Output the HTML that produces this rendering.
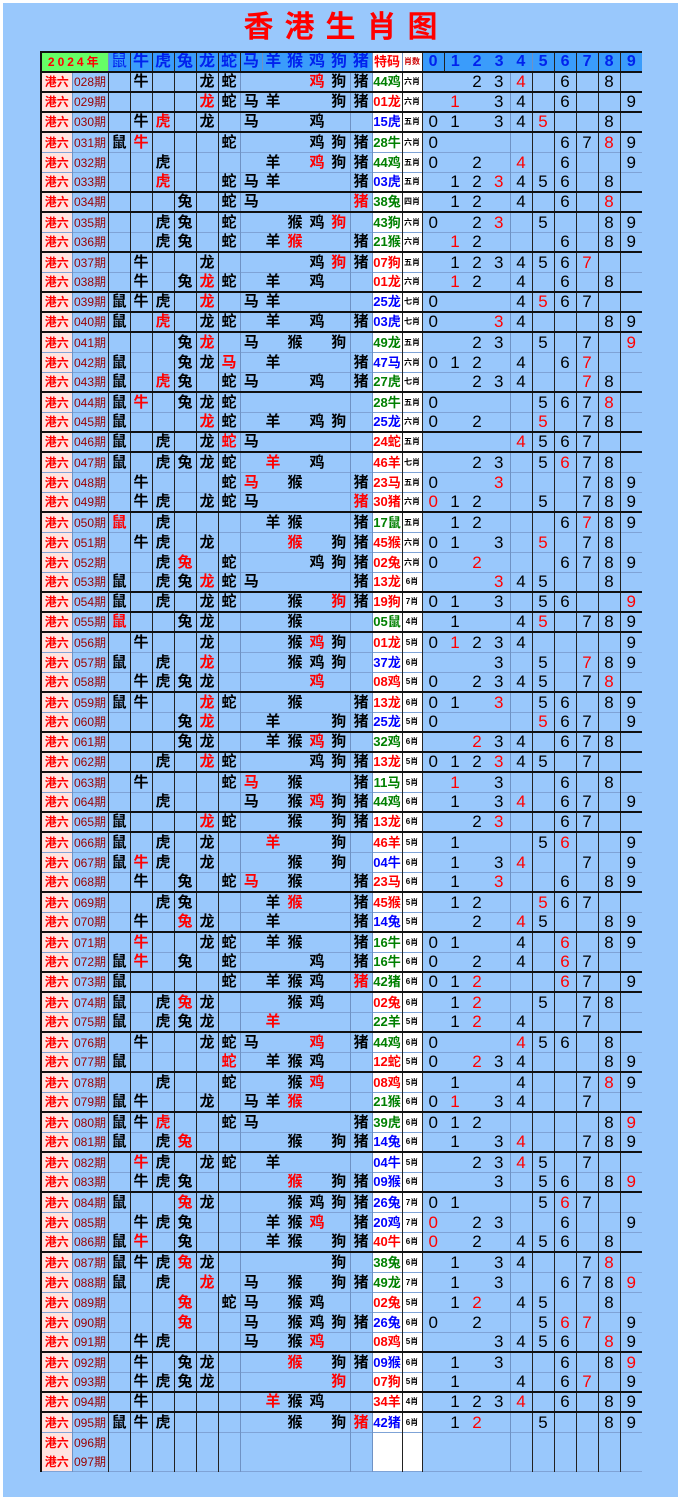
<!DOCTYPE html>
<html><head><meta charset="utf-8"><style>
body{margin:0;background:#fff;width:681px;height:1500px;overflow:hidden}
#w{position:absolute;left:3px;top:3px;width:675px;height:1494px;background:#99c8fc}
h1{position:absolute;left:0;width:681px;top:8px;margin:0;text-align:center;color:#f00;font:bold 30px "Liberation Sans","Noto Sans CJK SC",sans-serif;letter-spacing:11px;text-indent:11px;line-height:40px}
table{position:absolute;left:40px;top:51px;border-collapse:collapse;table-layout:fixed;width:601px;font-family:"Liberation Sans","Noto Sans CJK SC",sans-serif;border-top:2px solid #111;border-left:2px solid #111}
td{height:19px;padding:0;text-align:center;border-left:1px solid #222;font-size:15px;line-height:18px;white-space:nowrap;overflow:hidden;font-weight:bold;color:#000}
tr.e td{height:18px}
tr td:nth-child(n+17){font-weight:normal;font-size:17px;font-family:"Liberation Sans",sans-serif}
td:nth-child(10),td:nth-child(11),td:nth-child(12),td:nth-child(13),td:nth-child(18),td:nth-child(19),td:nth-child(20){border-left:none}
td:nth-child(2),td:nth-child(9),td:nth-child(14),td:nth-child(15),td:nth-child(21){border-left-color:#6f92c4}
td:nth-child(1){background:#ffe4e1;color:#f00;font-size:12px}
td:nth-child(2){color:#990000;font-size:12px;font-weight:normal}
td:nth-child(15),td:nth-child(16){background:#fff}
td:nth-child(15){font-size:13px}
td:nth-child(16){font-size:8px}
tr{border-bottom:1px solid #7fa3d6}
tr.e{border-bottom:2px solid #111}
tr.h td{background:#3a9cfb;color:#0022ee;font-size:16px;height:17px}
tr.h td.y{background:#66ff66;color:#f00;font-size:12px;letter-spacing:3px}
tr.h td.tm{background:#fff;color:#f00;font-size:13px;font-weight:bold}
tr.h td.xs{background:#fff;color:#c00;font-size:8px}
tr.h td.dg{font-weight:bold;font-size:16px;color:#0022ee}
td.r{color:#f00!important}
td.g{color:#008000}
td.b{color:#0000ff}
</style></head><body><div id="w"></div>
<h1>香港生肖图</h1>
<table>
<colgroup><col style="width:31px"><col style="width:36px"><col span="12" style="width:22px"><col style="width:30px"><col style="width:20px"><col span="10" style="width:22px"></colgroup>
<tr class="h e"><td class="y" colspan="2">2024年</td><td>鼠</td><td>牛</td><td>虎</td><td>兔</td><td>龙</td><td>蛇</td><td>马</td><td>羊</td><td>猴</td><td>鸡</td><td>狗</td><td>猪</td><td class="tm">特码</td><td class="xs">肖数</td><td class="dg">0</td><td class="dg">1</td><td class="dg">2</td><td class="dg">3</td><td class="dg">4</td><td class="dg">5</td><td class="dg">6</td><td class="dg">7</td><td class="dg">8</td><td class="dg">9</td></tr>
<tr class="e"><td>港六</td><td>028期</td><td></td><td>牛</td><td></td><td></td><td>龙</td><td>蛇</td><td></td><td></td><td></td><td class="r">鸡</td><td>狗</td><td>猪</td><td class="g">44鸡</td><td>六肖</td><td></td><td></td><td>2</td><td>3</td><td class="r">4</td><td></td><td>6</td><td></td><td>8</td><td></td></tr>
<tr class="e"><td>港六</td><td>029期</td><td></td><td></td><td></td><td></td><td class="r">龙</td><td>蛇</td><td>马</td><td>羊</td><td></td><td></td><td>狗</td><td>猪</td><td class="r">01龙</td><td>六肖</td><td></td><td class="r">1</td><td></td><td>3</td><td>4</td><td></td><td>6</td><td></td><td></td><td>9</td></tr>
<tr class="e"><td>港六</td><td>030期</td><td></td><td>牛</td><td class="r">虎</td><td></td><td>龙</td><td></td><td>马</td><td></td><td></td><td>鸡</td><td></td><td></td><td class="b">15虎</td><td>五肖</td><td>0</td><td>1</td><td></td><td>3</td><td>4</td><td class="r">5</td><td></td><td></td><td>8</td><td></td></tr>
<tr><td>港六</td><td>031期</td><td>鼠</td><td class="r">牛</td><td></td><td></td><td></td><td>蛇</td><td></td><td></td><td></td><td>鸡</td><td>狗</td><td>猪</td><td class="g">28牛</td><td>六肖</td><td>0</td><td></td><td></td><td></td><td></td><td></td><td>6</td><td>7</td><td class="r">8</td><td>9</td></tr>
<tr><td>港六</td><td>032期</td><td></td><td></td><td>虎</td><td></td><td></td><td></td><td></td><td>羊</td><td></td><td class="r">鸡</td><td>狗</td><td>猪</td><td class="g">44鸡</td><td>五肖</td><td>0</td><td></td><td>2</td><td></td><td class="r">4</td><td></td><td>6</td><td></td><td></td><td>9</td></tr>
<tr class="e"><td>港六</td><td>033期</td><td></td><td></td><td class="r">虎</td><td></td><td></td><td>蛇</td><td>马</td><td>羊</td><td></td><td></td><td></td><td>猪</td><td class="b">03虎</td><td>五肖</td><td></td><td>1</td><td>2</td><td class="r">3</td><td>4</td><td>5</td><td>6</td><td></td><td>8</td><td></td></tr>
<tr class="e"><td>港六</td><td>034期</td><td></td><td></td><td></td><td>兔</td><td></td><td>蛇</td><td>马</td><td></td><td></td><td></td><td></td><td class="r">猪</td><td class="g">38兔</td><td>四肖</td><td></td><td>1</td><td>2</td><td></td><td>4</td><td></td><td>6</td><td></td><td class="r">8</td><td></td></tr>
<tr><td>港六</td><td>035期</td><td></td><td></td><td>虎</td><td>兔</td><td></td><td>蛇</td><td></td><td></td><td>猴</td><td>鸡</td><td class="r">狗</td><td></td><td class="g">43狗</td><td>六肖</td><td>0</td><td></td><td>2</td><td class="r">3</td><td></td><td>5</td><td></td><td></td><td>8</td><td>9</td></tr>
<tr class="e"><td>港六</td><td>036期</td><td></td><td></td><td>虎</td><td>兔</td><td></td><td>蛇</td><td></td><td>羊</td><td class="r">猴</td><td></td><td></td><td>猪</td><td class="g">21猴</td><td>六肖</td><td></td><td class="r">1</td><td>2</td><td></td><td></td><td></td><td>6</td><td></td><td>8</td><td>9</td></tr>
<tr><td>港六</td><td>037期</td><td></td><td>牛</td><td></td><td></td><td>龙</td><td></td><td></td><td></td><td></td><td>鸡</td><td class="r">狗</td><td>猪</td><td class="r">07狗</td><td>五肖</td><td></td><td>1</td><td>2</td><td>3</td><td>4</td><td>5</td><td>6</td><td class="r">7</td><td></td><td></td></tr>
<tr class="e"><td>港六</td><td>038期</td><td></td><td>牛</td><td></td><td>兔</td><td class="r">龙</td><td>蛇</td><td></td><td>羊</td><td></td><td>鸡</td><td></td><td></td><td class="r">01龙</td><td>六肖</td><td></td><td class="r">1</td><td>2</td><td></td><td>4</td><td></td><td>6</td><td></td><td>8</td><td></td></tr>
<tr class="e"><td>港六</td><td>039期</td><td>鼠</td><td>牛</td><td>虎</td><td></td><td class="r">龙</td><td></td><td>马</td><td>羊</td><td></td><td></td><td></td><td></td><td class="b">25龙</td><td>七肖</td><td>0</td><td></td><td></td><td></td><td>4</td><td class="r">5</td><td>6</td><td>7</td><td></td><td></td></tr>
<tr class="e"><td>港六</td><td>040期</td><td>鼠</td><td></td><td class="r">虎</td><td></td><td>龙</td><td>蛇</td><td></td><td>羊</td><td></td><td>鸡</td><td></td><td>猪</td><td class="b">03虎</td><td>七肖</td><td>0</td><td></td><td></td><td class="r">3</td><td>4</td><td></td><td></td><td></td><td>8</td><td>9</td></tr>
<tr><td>港六</td><td>041期</td><td></td><td></td><td></td><td>兔</td><td class="r">龙</td><td></td><td>马</td><td></td><td>猴</td><td></td><td>狗</td><td></td><td class="g">49龙</td><td>五肖</td><td></td><td></td><td>2</td><td>3</td><td></td><td>5</td><td></td><td>7</td><td></td><td class="r">9</td></tr>
<tr><td>港六</td><td>042期</td><td>鼠</td><td></td><td></td><td>兔</td><td>龙</td><td class="r">马</td><td></td><td>羊</td><td></td><td></td><td></td><td>猪</td><td class="b">47马</td><td>六肖</td><td>0</td><td>1</td><td>2</td><td></td><td>4</td><td></td><td>6</td><td class="r">7</td><td></td><td></td></tr>
<tr class="e"><td>港六</td><td>043期</td><td>鼠</td><td></td><td class="r">虎</td><td>兔</td><td></td><td>蛇</td><td>马</td><td></td><td></td><td>鸡</td><td></td><td>猪</td><td class="g">27虎</td><td>七肖</td><td></td><td></td><td>2</td><td>3</td><td>4</td><td></td><td></td><td class="r">7</td><td>8</td><td></td></tr>
<tr><td>港六</td><td>044期</td><td>鼠</td><td class="r">牛</td><td></td><td>兔</td><td>龙</td><td>蛇</td><td></td><td></td><td></td><td></td><td></td><td></td><td class="g">28牛</td><td>五肖</td><td>0</td><td></td><td></td><td></td><td></td><td>5</td><td>6</td><td>7</td><td class="r">8</td><td></td></tr>
<tr class="e"><td>港六</td><td>045期</td><td>鼠</td><td></td><td></td><td></td><td class="r">龙</td><td>蛇</td><td></td><td>羊</td><td></td><td>鸡</td><td>狗</td><td></td><td class="b">25龙</td><td>六肖</td><td>0</td><td></td><td>2</td><td></td><td></td><td class="r">5</td><td></td><td>7</td><td>8</td><td></td></tr>
<tr class="e"><td>港六</td><td>046期</td><td>鼠</td><td></td><td>虎</td><td></td><td>龙</td><td class="r">蛇</td><td>马</td><td></td><td></td><td></td><td></td><td></td><td class="r">24蛇</td><td>五肖</td><td></td><td></td><td></td><td></td><td class="r">4</td><td>5</td><td>6</td><td>7</td><td></td><td></td></tr>
<tr><td>港六</td><td>047期</td><td>鼠</td><td></td><td>虎</td><td>兔</td><td>龙</td><td>蛇</td><td></td><td class="r">羊</td><td></td><td>鸡</td><td></td><td></td><td class="r">46羊</td><td>七肖</td><td></td><td></td><td>2</td><td>3</td><td></td><td>5</td><td class="r">6</td><td>7</td><td>8</td><td></td></tr>
<tr><td>港六</td><td>048期</td><td></td><td>牛</td><td></td><td></td><td></td><td>蛇</td><td class="r">马</td><td></td><td>猴</td><td></td><td></td><td>猪</td><td class="r">23马</td><td>五肖</td><td>0</td><td></td><td></td><td class="r">3</td><td></td><td></td><td></td><td>7</td><td>8</td><td>9</td></tr>
<tr class="e"><td>港六</td><td>049期</td><td></td><td>牛</td><td>虎</td><td></td><td>龙</td><td>蛇</td><td>马</td><td></td><td></td><td></td><td></td><td class="r">猪</td><td class="r">30猪</td><td>六肖</td><td class="r">0</td><td>1</td><td>2</td><td></td><td></td><td>5</td><td></td><td>7</td><td>8</td><td>9</td></tr>
<tr><td>港六</td><td>050期</td><td class="r">鼠</td><td></td><td>虎</td><td></td><td></td><td></td><td></td><td>羊</td><td>猴</td><td></td><td></td><td>猪</td><td class="g">17鼠</td><td>五肖</td><td></td><td>1</td><td>2</td><td></td><td></td><td></td><td>6</td><td class="r">7</td><td>8</td><td>9</td></tr>
<tr><td>港六</td><td>051期</td><td></td><td>牛</td><td>虎</td><td></td><td>龙</td><td></td><td></td><td></td><td class="r">猴</td><td></td><td>狗</td><td>猪</td><td class="r">45猴</td><td>六肖</td><td>0</td><td>1</td><td></td><td>3</td><td></td><td class="r">5</td><td></td><td>7</td><td>8</td><td></td></tr>
<tr><td>港六</td><td>052期</td><td></td><td></td><td>虎</td><td class="r">兔</td><td></td><td>蛇</td><td></td><td></td><td></td><td>鸡</td><td>狗</td><td>猪</td><td class="r">02兔</td><td>六肖</td><td>0</td><td></td><td class="r">2</td><td></td><td></td><td></td><td>6</td><td>7</td><td>8</td><td>9</td></tr>
<tr class="e"><td>港六</td><td>053期</td><td>鼠</td><td></td><td>虎</td><td>兔</td><td class="r">龙</td><td>蛇</td><td>马</td><td></td><td></td><td></td><td></td><td>猪</td><td class="r">13龙</td><td>6肖</td><td></td><td></td><td></td><td class="r">3</td><td>4</td><td>5</td><td></td><td></td><td>8</td><td></td></tr>
<tr class="e"><td>港六</td><td>054期</td><td>鼠</td><td></td><td>虎</td><td></td><td>龙</td><td>蛇</td><td></td><td></td><td>猴</td><td></td><td class="r">狗</td><td>猪</td><td class="r">19狗</td><td>7肖</td><td>0</td><td>1</td><td></td><td>3</td><td></td><td>5</td><td>6</td><td></td><td></td><td class="r">9</td></tr>
<tr class="e"><td>港六</td><td>055期</td><td class="r">鼠</td><td></td><td></td><td>兔</td><td>龙</td><td></td><td></td><td></td><td>猴</td><td></td><td></td><td></td><td class="g">05鼠</td><td>4肖</td><td></td><td>1</td><td></td><td></td><td>4</td><td class="r">5</td><td></td><td>7</td><td>8</td><td>9</td></tr>
<tr><td>港六</td><td>056期</td><td></td><td>牛</td><td></td><td></td><td>龙</td><td></td><td></td><td></td><td>猴</td><td class="r">鸡</td><td>狗</td><td></td><td class="r">01龙</td><td>5肖</td><td>0</td><td class="r">1</td><td>2</td><td>3</td><td>4</td><td></td><td></td><td></td><td></td><td>9</td></tr>
<tr><td>港六</td><td>057期</td><td>鼠</td><td></td><td>虎</td><td></td><td class="r">龙</td><td></td><td></td><td></td><td>猴</td><td>鸡</td><td>狗</td><td></td><td class="b">37龙</td><td>6肖</td><td></td><td></td><td></td><td>3</td><td></td><td>5</td><td></td><td class="r">7</td><td>8</td><td>9</td></tr>
<tr class="e"><td>港六</td><td>058期</td><td></td><td>牛</td><td>虎</td><td>兔</td><td>龙</td><td></td><td></td><td></td><td></td><td class="r">鸡</td><td></td><td></td><td class="r">08鸡</td><td>5肖</td><td>0</td><td></td><td>2</td><td>3</td><td>4</td><td>5</td><td></td><td>7</td><td class="r">8</td><td></td></tr>
<tr><td>港六</td><td>059期</td><td>鼠</td><td>牛</td><td></td><td></td><td class="r">龙</td><td>蛇</td><td></td><td></td><td>猴</td><td></td><td></td><td>猪</td><td class="r">13龙</td><td>6肖</td><td>0</td><td>1</td><td></td><td class="r">3</td><td></td><td>5</td><td>6</td><td></td><td>8</td><td>9</td></tr>
<tr class="e"><td>港六</td><td>060期</td><td></td><td></td><td></td><td>兔</td><td class="r">龙</td><td></td><td></td><td>羊</td><td></td><td></td><td>狗</td><td>猪</td><td class="b">25龙</td><td>5肖</td><td>0</td><td></td><td></td><td></td><td></td><td class="r">5</td><td>6</td><td>7</td><td></td><td>9</td></tr>
<tr class="e"><td>港六</td><td>061期</td><td></td><td></td><td></td><td>兔</td><td>龙</td><td></td><td></td><td>羊</td><td>猴</td><td class="r">鸡</td><td>狗</td><td></td><td class="g">32鸡</td><td>6肖</td><td></td><td></td><td class="r">2</td><td>3</td><td>4</td><td></td><td>6</td><td>7</td><td>8</td><td></td></tr>
<tr class="e"><td>港六</td><td>062期</td><td></td><td></td><td>虎</td><td></td><td class="r">龙</td><td>蛇</td><td></td><td></td><td></td><td>鸡</td><td>狗</td><td>猪</td><td class="r">13龙</td><td>5肖</td><td>0</td><td>1</td><td>2</td><td class="r">3</td><td>4</td><td>5</td><td></td><td>7</td><td></td><td></td></tr>
<tr><td>港六</td><td>063期</td><td></td><td>牛</td><td></td><td></td><td></td><td>蛇</td><td class="r">马</td><td></td><td>猴</td><td></td><td></td><td>猪</td><td class="g">11马</td><td>5肖</td><td></td><td class="r">1</td><td></td><td>3</td><td></td><td></td><td>6</td><td></td><td>8</td><td></td></tr>
<tr class="e"><td>港六</td><td>064期</td><td></td><td></td><td>虎</td><td></td><td></td><td></td><td>马</td><td></td><td>猴</td><td class="r">鸡</td><td>狗</td><td>猪</td><td class="g">44鸡</td><td>6肖</td><td></td><td>1</td><td></td><td>3</td><td class="r">4</td><td></td><td>6</td><td>7</td><td></td><td>9</td></tr>
<tr class="e"><td>港六</td><td>065期</td><td>鼠</td><td></td><td></td><td></td><td class="r">龙</td><td>蛇</td><td></td><td></td><td>猴</td><td></td><td>狗</td><td>猪</td><td class="r">13龙</td><td>6肖</td><td></td><td></td><td>2</td><td class="r">3</td><td></td><td></td><td>6</td><td>7</td><td></td><td></td></tr>
<tr><td>港六</td><td>066期</td><td>鼠</td><td></td><td>虎</td><td></td><td>龙</td><td></td><td></td><td class="r">羊</td><td></td><td></td><td>狗</td><td></td><td class="r">46羊</td><td>5肖</td><td></td><td>1</td><td></td><td></td><td></td><td>5</td><td class="r">6</td><td></td><td></td><td>9</td></tr>
<tr><td>港六</td><td>067期</td><td>鼠</td><td class="r">牛</td><td>虎</td><td></td><td>龙</td><td></td><td></td><td></td><td>猴</td><td></td><td>狗</td><td></td><td class="b">04牛</td><td>6肖</td><td></td><td>1</td><td></td><td>3</td><td class="r">4</td><td></td><td></td><td>7</td><td></td><td>9</td></tr>
<tr class="e"><td>港六</td><td>068期</td><td></td><td>牛</td><td></td><td>兔</td><td></td><td>蛇</td><td class="r">马</td><td></td><td>猴</td><td></td><td></td><td>猪</td><td class="r">23马</td><td>6肖</td><td></td><td>1</td><td></td><td class="r">3</td><td></td><td></td><td>6</td><td></td><td>8</td><td>9</td></tr>
<tr><td>港六</td><td>069期</td><td></td><td></td><td>虎</td><td>兔</td><td></td><td></td><td></td><td>羊</td><td class="r">猴</td><td></td><td></td><td>猪</td><td class="r">45猴</td><td>5肖</td><td></td><td>1</td><td>2</td><td></td><td></td><td class="r">5</td><td>6</td><td>7</td><td></td><td></td></tr>
<tr class="e"><td>港六</td><td>070期</td><td></td><td>牛</td><td></td><td class="r">兔</td><td>龙</td><td></td><td></td><td>羊</td><td></td><td></td><td></td><td>猪</td><td class="b">14兔</td><td>5肖</td><td></td><td></td><td>2</td><td></td><td class="r">4</td><td>5</td><td></td><td></td><td>8</td><td>9</td></tr>
<tr><td>港六</td><td>071期</td><td></td><td class="r">牛</td><td></td><td></td><td>龙</td><td>蛇</td><td></td><td>羊</td><td>猴</td><td></td><td></td><td>猪</td><td class="g">16牛</td><td>6肖</td><td>0</td><td>1</td><td></td><td></td><td>4</td><td></td><td class="r">6</td><td></td><td>8</td><td>9</td></tr>
<tr class="e"><td>港六</td><td>072期</td><td>鼠</td><td class="r">牛</td><td></td><td>兔</td><td></td><td>蛇</td><td></td><td></td><td></td><td>鸡</td><td></td><td>猪</td><td class="g">16牛</td><td>6肖</td><td>0</td><td></td><td>2</td><td></td><td>4</td><td></td><td class="r">6</td><td>7</td><td></td><td></td></tr>
<tr class="e"><td>港六</td><td>073期</td><td>鼠</td><td></td><td></td><td></td><td></td><td>蛇</td><td></td><td>羊</td><td>猴</td><td>鸡</td><td></td><td class="r">猪</td><td class="g">42猪</td><td>6肖</td><td>0</td><td>1</td><td class="r">2</td><td></td><td></td><td></td><td class="r">6</td><td>7</td><td></td><td>9</td></tr>
<tr><td>港六</td><td>074期</td><td>鼠</td><td></td><td>虎</td><td class="r">兔</td><td>龙</td><td></td><td></td><td></td><td>猴</td><td>鸡</td><td></td><td></td><td class="r">02兔</td><td>6肖</td><td></td><td>1</td><td class="r">2</td><td></td><td></td><td>5</td><td></td><td>7</td><td>8</td><td></td></tr>
<tr class="e"><td>港六</td><td>075期</td><td>鼠</td><td></td><td>虎</td><td>兔</td><td>龙</td><td></td><td></td><td class="r">羊</td><td></td><td></td><td></td><td></td><td class="g">22羊</td><td>5肖</td><td></td><td>1</td><td class="r">2</td><td></td><td>4</td><td></td><td></td><td>7</td><td></td><td></td></tr>
<tr><td>港六</td><td>076期</td><td></td><td>牛</td><td></td><td></td><td>龙</td><td>蛇</td><td>马</td><td></td><td></td><td class="r">鸡</td><td></td><td>猪</td><td class="g">44鸡</td><td>6肖</td><td>0</td><td></td><td></td><td></td><td class="r">4</td><td>5</td><td>6</td><td></td><td>8</td><td></td></tr>
<tr class="e"><td>港六</td><td>077期</td><td>鼠</td><td></td><td></td><td></td><td></td><td class="r">蛇</td><td></td><td>羊</td><td>猴</td><td>鸡</td><td></td><td></td><td class="r">12蛇</td><td>5肖</td><td>0</td><td></td><td class="r">2</td><td>3</td><td>4</td><td></td><td></td><td></td><td>8</td><td>9</td></tr>
<tr><td>港六</td><td>078期</td><td></td><td></td><td>虎</td><td></td><td></td><td>蛇</td><td></td><td></td><td>猴</td><td class="r">鸡</td><td></td><td></td><td class="r">08鸡</td><td>5肖</td><td></td><td>1</td><td></td><td></td><td>4</td><td></td><td></td><td>7</td><td class="r">8</td><td>9</td></tr>
<tr class="e"><td>港六</td><td>079期</td><td>鼠</td><td>牛</td><td></td><td></td><td>龙</td><td></td><td>马</td><td>羊</td><td class="r">猴</td><td></td><td></td><td></td><td class="g">21猴</td><td>6肖</td><td>0</td><td class="r">1</td><td></td><td>3</td><td>4</td><td></td><td></td><td>7</td><td></td><td></td></tr>
<tr><td>港六</td><td>080期</td><td>鼠</td><td>牛</td><td class="r">虎</td><td></td><td></td><td>蛇</td><td>马</td><td></td><td></td><td></td><td></td><td>猪</td><td class="g">39虎</td><td>6肖</td><td>0</td><td>1</td><td>2</td><td></td><td></td><td></td><td></td><td></td><td>8</td><td class="r">9</td></tr>
<tr class="e"><td>港六</td><td>081期</td><td>鼠</td><td></td><td>虎</td><td class="r">兔</td><td></td><td></td><td></td><td></td><td>猴</td><td></td><td>狗</td><td>猪</td><td class="b">14兔</td><td>6肖</td><td></td><td>1</td><td></td><td>3</td><td class="r">4</td><td></td><td></td><td>7</td><td>8</td><td>9</td></tr>
<tr><td>港六</td><td>082期</td><td></td><td class="r">牛</td><td>虎</td><td></td><td>龙</td><td>蛇</td><td></td><td>羊</td><td></td><td></td><td></td><td></td><td class="b">04牛</td><td>5肖</td><td></td><td></td><td>2</td><td>3</td><td class="r">4</td><td>5</td><td></td><td>7</td><td></td><td></td></tr>
<tr class="e"><td>港六</td><td>083期</td><td></td><td>牛</td><td>虎</td><td>兔</td><td></td><td></td><td></td><td></td><td class="r">猴</td><td></td><td>狗</td><td>猪</td><td class="b">09猴</td><td>6肖</td><td></td><td></td><td></td><td>3</td><td></td><td>5</td><td>6</td><td></td><td>8</td><td class="r">9</td></tr>
<tr><td>港六</td><td>084期</td><td>鼠</td><td></td><td></td><td class="r">兔</td><td>龙</td><td></td><td></td><td></td><td>猴</td><td>鸡</td><td>狗</td><td>猪</td><td class="b">26兔</td><td>7肖</td><td>0</td><td>1</td><td></td><td></td><td></td><td>5</td><td class="r">6</td><td>7</td><td></td><td></td></tr>
<tr><td>港六</td><td>085期</td><td></td><td>牛</td><td>虎</td><td>兔</td><td></td><td></td><td></td><td>羊</td><td>猴</td><td class="r">鸡</td><td></td><td>猪</td><td class="b">20鸡</td><td>7肖</td><td class="r">0</td><td></td><td>2</td><td>3</td><td></td><td></td><td>6</td><td></td><td></td><td>9</td></tr>
<tr class="e"><td>港六</td><td>086期</td><td>鼠</td><td class="r">牛</td><td></td><td>兔</td><td></td><td></td><td></td><td>羊</td><td>猴</td><td></td><td>狗</td><td>猪</td><td class="r">40牛</td><td>6肖</td><td class="r">0</td><td></td><td>2</td><td></td><td>4</td><td>5</td><td>6</td><td></td><td>8</td><td></td></tr>
<tr><td>港六</td><td>087期</td><td>鼠</td><td>牛</td><td>虎</td><td class="r">兔</td><td>龙</td><td></td><td></td><td></td><td></td><td></td><td>狗</td><td></td><td class="g">38兔</td><td>6肖</td><td></td><td>1</td><td></td><td>3</td><td>4</td><td></td><td></td><td>7</td><td class="r">8</td><td></td></tr>
<tr><td>港六</td><td>088期</td><td>鼠</td><td></td><td>虎</td><td></td><td class="r">龙</td><td></td><td>马</td><td></td><td>猴</td><td></td><td>狗</td><td>猪</td><td class="g">49龙</td><td>7肖</td><td></td><td>1</td><td></td><td>3</td><td></td><td></td><td>6</td><td>7</td><td>8</td><td class="r">9</td></tr>
<tr><td>港六</td><td>089期</td><td></td><td></td><td></td><td class="r">兔</td><td></td><td>蛇</td><td>马</td><td></td><td>猴</td><td>鸡</td><td></td><td></td><td class="r">02兔</td><td>5肖</td><td></td><td>1</td><td class="r">2</td><td></td><td>4</td><td>5</td><td></td><td></td><td>8</td><td></td></tr>
<tr><td>港六</td><td>090期</td><td></td><td></td><td></td><td class="r">兔</td><td></td><td></td><td>马</td><td></td><td>猴</td><td>鸡</td><td>狗</td><td>猪</td><td class="b">26兔</td><td>6肖</td><td>0</td><td></td><td>2</td><td></td><td></td><td>5</td><td class="r">6</td><td class="r">7</td><td></td><td>9</td></tr>
<tr class="e"><td>港六</td><td>091期</td><td></td><td>牛</td><td>虎</td><td></td><td></td><td></td><td>马</td><td></td><td>猴</td><td class="r">鸡</td><td></td><td></td><td class="r">08鸡</td><td>5肖</td><td></td><td></td><td></td><td>3</td><td>4</td><td>5</td><td>6</td><td></td><td class="r">8</td><td>9</td></tr>
<tr><td>港六</td><td>092期</td><td></td><td>牛</td><td></td><td>兔</td><td>龙</td><td></td><td></td><td></td><td class="r">猴</td><td></td><td>狗</td><td>猪</td><td class="b">09猴</td><td>6肖</td><td></td><td>1</td><td></td><td>3</td><td></td><td></td><td>6</td><td></td><td>8</td><td class="r">9</td></tr>
<tr class="e"><td>港六</td><td>093期</td><td></td><td>牛</td><td>虎</td><td>兔</td><td>龙</td><td></td><td></td><td></td><td></td><td></td><td class="r">狗</td><td></td><td class="r">07狗</td><td>5肖</td><td></td><td>1</td><td></td><td></td><td>4</td><td></td><td>6</td><td class="r">7</td><td></td><td>9</td></tr>
<tr class="e"><td>港六</td><td>094期</td><td></td><td>牛</td><td></td><td></td><td></td><td></td><td></td><td class="r">羊</td><td>猴</td><td>鸡</td><td></td><td></td><td class="r">34羊</td><td>4肖</td><td></td><td>1</td><td>2</td><td>3</td><td class="r">4</td><td></td><td>6</td><td></td><td>8</td><td>9</td></tr>
<tr><td>港六</td><td>095期</td><td>鼠</td><td>牛</td><td>虎</td><td></td><td></td><td></td><td></td><td></td><td>猴</td><td></td><td>狗</td><td class="r">猪</td><td class="b">42猪</td><td>6肖</td><td></td><td>1</td><td class="r">2</td><td></td><td></td><td>5</td><td></td><td></td><td>8</td><td>9</td></tr>
<tr style="border-bottom:none"><td>港六</td><td>096期</td><td></td><td></td><td></td><td></td><td></td><td></td><td></td><td></td><td></td><td></td><td></td><td></td><td></td><td></td><td></td><td></td><td></td><td></td><td></td><td></td><td></td><td></td><td></td><td></td></tr>
<tr><td>港六</td><td>097期</td><td></td><td></td><td></td><td></td><td></td><td></td><td></td><td></td><td></td><td></td><td></td><td></td><td></td><td></td><td></td><td></td><td></td><td></td><td></td><td></td><td></td><td></td><td></td><td></td></tr>
</table>
</body></html>
